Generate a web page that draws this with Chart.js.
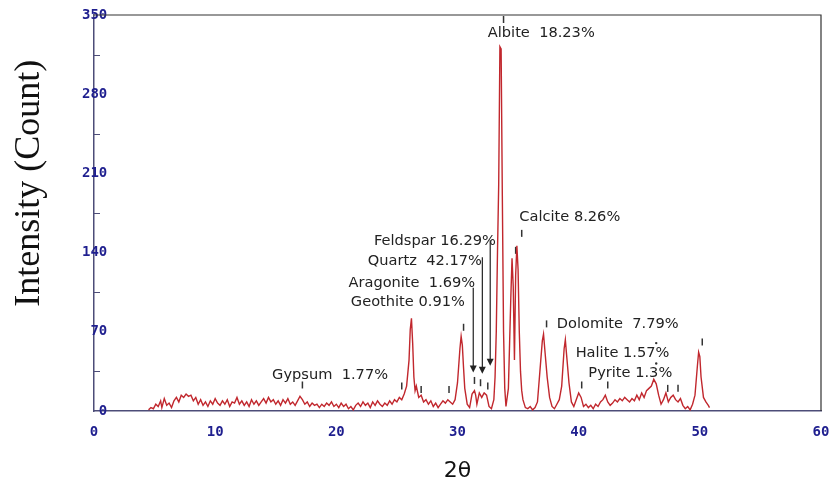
<!DOCTYPE html>
<html><head><meta charset="utf-8">
<script src="https://cdn.jsdelivr.net/npm/chart.js@4"></script>
<style>html,body{margin:0;padding:0;background:#fff}#wrap{width:835px;height:487px;position:relative}</style>
</head><body><div id="wrap"><canvas id="c" width="835" height="487"></canvas></div>
<script>
// ---- data ----
const twoTheta = [
 4.5,4.7,4.9,5.1,5.3,5.5,5.6,5.8,6.0,6.2,6.4,6.6,6.8,7.0,7.2,7.4,7.6,7.8,8.0,8.2,8.4,8.6,8.8,9.0,9.2,9.4,9.6,9.8,
 10.0,10.2,10.4,10.6,10.8,11.0,11.2,11.4,11.6,11.8,12.0,12.2,12.4,12.6,12.8,13.0,13.2,13.4,13.6,13.8,14.0,14.2,14.4,14.6,14.8,
 15.0,15.2,15.4,15.6,15.8,16.0,16.2,16.4,16.6,16.8,17.0,17.2,17.4,17.6,17.8,18.0,18.2,18.4,18.6,18.8,19.0,19.2,19.4,19.6,19.8,
 20.0,20.2,20.4,20.6,20.8,21.0,21.2,21.4,21.6,21.8,22.0,22.2,22.4,22.6,22.8,23.0,23.2,23.4,23.6,23.8,24.0,24.2,24.4,24.6,24.8,
 25.0,25.2,25.4,25.6,25.8,26.0,26.1,26.2,26.3,26.4,26.5,26.6,26.8,27.0,27.2,27.4,27.6,27.8,28.0,28.2,28.4,28.6,28.8,29.0,29.2,29.4,29.6,29.8,
 30.0,30.2,30.3,30.4,30.5,30.6,30.8,31.0,31.2,31.4,31.5,31.6,31.8,32.0,32.2,32.4,32.6,32.8,33.0,33.1,33.2,33.3,33.4,33.5,33.6,33.7,33.8,33.9,
 34.0,34.2,34.3,34.4,34.5,34.6,34.7,34.8,34.9,35.0,35.1,35.2,35.3,35.4,35.6,35.8,36.0,36.2,36.4,36.6,36.8,37.0,37.1,37.2,37.4,37.6,37.8,
 38.0,38.2,38.4,38.6,38.8,38.9,39.0,39.2,39.4,39.6,39.8,40.0,40.2,40.4,40.6,40.8,41.0,41.2,41.4,41.6,41.8,42.0,42.2,42.4,42.6,42.8,
 43.0,43.2,43.4,43.6,43.8,44.0,44.2,44.4,44.6,44.8,45.0,45.2,45.4,45.6,45.8,46.0,46.2,46.4,46.6,46.8,47.0,47.2,47.4,47.6,47.8,
 48.0,48.2,48.4,48.6,48.8,49.0,49.2,49.4,49.6,49.8,49.9,50.0,50.1,50.3,50.5,50.7,50.8
];
const intensity = [
 1,3,2,6,4,9,3,11,5,7,3,9,12,8,14,12,15,13,14,9,12,6,10,5,8,4,9,6,
 11,7,5,9,6,10,4,8,7,12,6,9,5,8,4,10,6,9,5,8,11,7,12,8,10,
 6,9,5,10,7,11,6,8,5,9,13,10,6,8,4,7,5,6,3,6,4,7,5,8,4,
 6,3,7,4,6,2,4,1,5,7,4,8,5,7,3,8,5,9,6,4,7,5,9,6,10,
 8,12,10,15,22,45,72,82,60,30,18,22,12,14,8,10,6,9,4,7,3,6,9,7,10,8,6,10,
 25,55,66,58,38,20,6,3,15,18,14,6,16,12,16,14,4,2,10,30,70,140,200,322,320,190,70,20,
 4,20,60,100,135,110,45,120,146,125,70,35,18,10,3,2,4,1,3,8,35,62,68,55,30,12,4,
 2,6,10,22,55,63,50,25,8,4,10,16,12,4,6,3,5,2,6,4,8,10,14,8,5,7,
 10,8,11,9,12,10,8,11,9,14,10,16,12,18,20,22,28,24,14,6,10,16,8,12,14,
 10,8,11,5,2,4,1,6,14,40,52,48,30,12,8,5,3
];
const markerTheta = [17.2, 25.4, 27.0, 29.3, 30.5, 31.4, 31.9, 32.5, 33.8, 34.8, 35.3, 37.35, 40.25, 42.4, 47.35, 48.2, 50.2];
const markerIntensity = [23, 22, 19, 19, 74, 27, 25, 22, 346, 142, 157, 77, 23, 23, 20, 20, 61];
const dotTheta = [46.4, 46.4];
const dotIntensity = [60, 42];
const phaseLabels = ["Albite  18.23%", "Calcite 8.26%", "Feldspar 16.29%", "Quartz  42.17%", "Aragonite  1.69%", "Geothite 0.91%", "Dolomite  7.79%", "Halite 1.57%", "Pyrite 1.3%", "Gypsum  1.77%"];
const phaseLabelTheta = [32.5, 35.1, 23.1, 22.6, 21.0, 21.2, 38.2, 39.75, 40.8, 14.7];
const phaseLabelIntensity = [334, 171, 150, 132, 113, 96, 77, 51, 33, 32];
const arrowTheta = [31.3, 32.05, 32.7];
const arrowTop = [109, 136, 151];
const arrowTip = [34, 33, 40];
const xTickStep = 10;
const yTickStep = 35;
const yLabelStep = 70;

const NAVY = '#1f1f8f';
const AXIS = '#4d4d78';

const decorPlugin = {
  id: 'decor',
  afterDatasetsDraw(chart) {
    const {ctx, chartArea: a, scales: {x, y}} = chart;
    ctx.save();
    ctx.strokeStyle = '#333';
    ctx.lineWidth = 1.2;
    ctx.beginPath();
    ctx.moveTo(a.left, a.top); ctx.lineTo(a.right, a.top); ctx.lineTo(a.right, a.bottom);
    ctx.stroke();
    ctx.strokeStyle = AXIS;
    ctx.lineWidth = 1;
    for (let v = yTickStep; v < 350; v += yTickStep) {
      if (v % yLabelStep === 0) continue;
      const py = Math.round(y.getPixelForValue(v)) + 0.5;
      ctx.beginPath(); ctx.moveTo(a.left, py); ctx.lineTo(a.left + 6, py); ctx.stroke();
    }
    ctx.strokeStyle = '#222'; ctx.fillStyle = '#222'; ctx.lineWidth = 1.2;
    arrowTheta.forEach((t, i) => {
      const px = x.getPixelForValue(t);
      const y1 = y.getPixelForValue(arrowTop[i]);
      const y2 = y.getPixelForValue(arrowTip[i]);
      ctx.beginPath(); ctx.moveTo(px, y1); ctx.lineTo(px, y2 - 5); ctx.stroke();
      ctx.beginPath(); ctx.moveTo(px - 3.5, y2 - 7); ctx.lineTo(px + 3.5, y2 - 7); ctx.lineTo(px, y2); ctx.closePath(); ctx.fill();
    });
    ctx.font = '14.6px "DejaVu Sans"';
    ctx.fillStyle = '#222';
    ctx.textBaseline = 'middle';
    ctx.textAlign = 'left';
    phaseLabels.forEach((s, i) => {
      ctx.fillText(s, x.getPixelForValue(phaseLabelTheta[i]), y.getPixelForValue(phaseLabelIntensity[i]));
    });
    ctx.fillStyle = '#111';
    ctx.font = '36px "Liberation Serif"';
    ctx.textAlign = 'center';
    ctx.save();
    ctx.translate(30, a.top + (a.bottom - a.top) * 0.425);
    ctx.rotate(-Math.PI / 2);
    ctx.fillText('Intensity (Count)', 0, 0);
    ctx.restore();
    ctx.font = '22px "DejaVu Sans"';
    ctx.fillText('2θ', (a.left + a.right) / 2, 471);
    ctx.restore();
  }
};

new Chart(document.getElementById('c'), {
  type: 'line',
  data: {
    datasets: [
      {
        data: twoTheta.map((t, i) => ({x: t, y: intensity[i]})),
        borderColor: '#c1272d', borderWidth: 1.4, pointRadius: 0, tension: 0, fill: false
      },
      {
        type: 'scatter',
        data: markerTheta.map((t, i) => ({x: t, y: markerIntensity[i]})),
        pointStyle: 'line', rotation: 90, pointRadius: 3.5, borderColor: '#333', borderWidth: 1.5
      },
      {
        type: 'scatter',
        data: dotTheta.map((t, i) => ({x: t, y: dotIntensity[i]})),
        pointStyle: 'circle', pointRadius: 1.2, backgroundColor: '#333', borderColor: '#333', borderWidth: 0
      }
    ]
  },
  options: {
    responsive: false,
    animation: false,
    layout: {padding: {top: 15, right: 14, left: 0, bottom: 0}},
    plugins: {legend: {display: false}, tooltip: {enabled: false}},
    scales: {
      x: {
        type: 'linear', min: 0, max: 60,
        afterFit: s => { s.height = 76; s.paddingRight = 0; s.paddingLeft = 0; },
        grid: {display: false, drawTicks: false},
        border: {display: true, color: AXIS, width: 1.5},
        ticks: {stepSize: xTickStep, padding: 13, color: NAVY, font: {family: '"DejaVu Sans Mono"', weight: 'bold', size: 14}, maxRotation: 0}
      },
      y: {
        min: 0, max: 350,
        afterFit: s => { s.width = 94; s.paddingTop = 0; s.paddingBottom = 0; },
        grid: {display: false, drawTicks: false},
        border: {display: true, color: AXIS, width: 1.5},
        ticks: {stepSize: yTickStep, mirror: true, padding: -12, color: NAVY, font: {family: '"DejaVu Sans Mono"', weight: 'bold', size: 14},
          callback: v => (v % yLabelStep === 0 ? String(v).padStart(3, ' ') : '')}
      }
    }
  },
  plugins: [decorPlugin]
});
</script>
</body></html>
